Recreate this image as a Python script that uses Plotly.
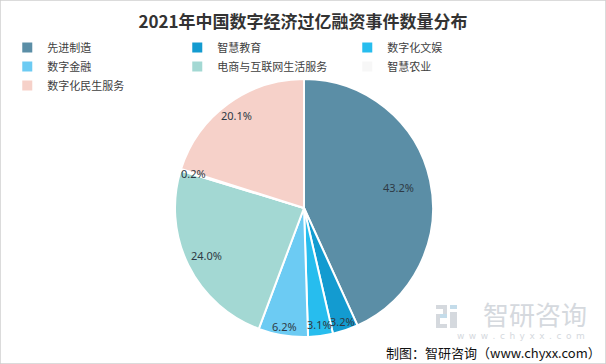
import math
import plotly.graph_objects as go

categories = ["先进制造", "智慧教育", "数字化文娱", "数字金融", "电商与互联网生活服务", "智慧农业", "数字化民生服务"]
values = [43.2, 3.2, 3.1, 6.2, 24.0, 0.2, 20.1]
colors = ["#5b8ea6", "#139bd0", "#27bdee", "#6ccbf3", "#a3d8d3", "#f7f7f7", "#f6d1c9"]

W, H = 606, 364
CX, CY, R = 304, 208, 129  # pie centre / radius in pixels
label_radius = [0.75, 0.93, 0.91, 0.93, 0.84, 0.9, 0.89]  # style: label distance (fraction of radius)

fig = go.Figure()
fig.add_trace(go.Pie(
    labels=categories, values=values, sort=False, direction="clockwise", rotation=0,
    marker=dict(colors=colors, line=dict(color="white", width=2)),
    textinfo="none",
    domain=dict(x=[(CX - R) / W, (CX + R) / W], y=[(H - CY - R) / H, (H - CY + R) / H]),
    hoverinfo="label+percent",
))

annotations = []
total = sum(values)
cum = 0.0
for v, fr in zip(values, label_radius):
    mid = (cum + v / 2) / total * 2 * math.pi
    cum += v
    px = CX + fr * R * math.sin(mid)
    py = CY - fr * R * math.cos(mid)
    annotations.append(dict(text=f"{v:.1f}%", x=px / W, y=1 - py / H, xref="paper", yref="paper",
                            xanchor="center", yanchor="middle", showarrow=False,
                            font=dict(family="Noto Sans", size=11, color="#2e3a45")))

wm = "#d5d9de"
annotations += [
    dict(text="智研咨询", x=588 / W, y=1 - 313 / H, xref="paper", yref="paper",
         xanchor="right", yanchor="middle", showarrow=False, borderpad=0,
         font=dict(family="Noto Sans CJK SC", size=26, color=wm)),
    dict(text="\u2002".join("www.chyxx.com"), x=586 / W, y=1 - 336 / H, xref="paper", yref="paper",
         xanchor="right", yanchor="middle", showarrow=False, borderpad=0,
         font=dict(family="DejaVu Sans", size=9, color=wm)),
    dict(text="制图：智研咨询（www.chyxx.com）", x=602 / W, y=1 - 352 / H, xref="paper", yref="paper",
         xanchor="right", yanchor="middle", showarrow=False, borderpad=0,
         font=dict(family="Noto Sans CJK SC", size=13, color="#111111")),
]

def px_rect(x0, y0, x1, y1, color):
    return dict(type="rect", xref="paper", yref="paper", x0=x0 / W, x1=x1 / W,
                y0=1 - y1 / H, y1=1 - y0 / H, fillcolor=color, line=dict(width=0), layer="below")

logo_blue = "#c4dcea"
shapes = [
    dict(type="rect", xref="paper", yref="paper", x0=0, y0=0, x1=1, y1=1,
         line=dict(color="#cfcfcf", width=1.5)),
    px_rect(436, 305, 447, 309, wm),
    px_rect(443, 305, 447, 318, wm),
    px_rect(436, 314, 447, 318, logo_blue),
    px_rect(436, 314, 440, 328, wm),
    px_rect(436, 324, 447, 328, wm),
    px_rect(450, 305, 457, 309, logo_blue),
    px_rect(450, 312, 457, 328, wm),
]

fig.update_layout(
    width=W, height=H,
    margin=dict(l=0, r=0, t=0, b=0),
    paper_bgcolor="white", plot_bgcolor="white",
    title=dict(text="<b>2021年中国数字经济过亿融资事件数量分布</b>", x=0.5, xanchor="center",
               y=1 - 22 / H, yanchor="middle",
               font=dict(family="Noto Sans CJK SC", size=17, color="#333333")),
    legend=dict(orientation="h", x=0.012, xanchor="left", y=1 - 33 / H, yanchor="top",
                entrywidth=125, entrywidthmode="pixels",
                font=dict(family="Noto Sans CJK SC", size=11, color="#404040"),
                itemwidth=30, tracegroupgap=0, bgcolor="rgba(0,0,0,0)"),
    showlegend=True,
    font=dict(family="Noto Sans CJK SC"),
    shapes=shapes,
    annotations=annotations,
)

fig.write_html("out.html", config={"displayModeBar": False},
               post_script="document.body.style.margin='0';document.body.style.overflow='hidden';")
